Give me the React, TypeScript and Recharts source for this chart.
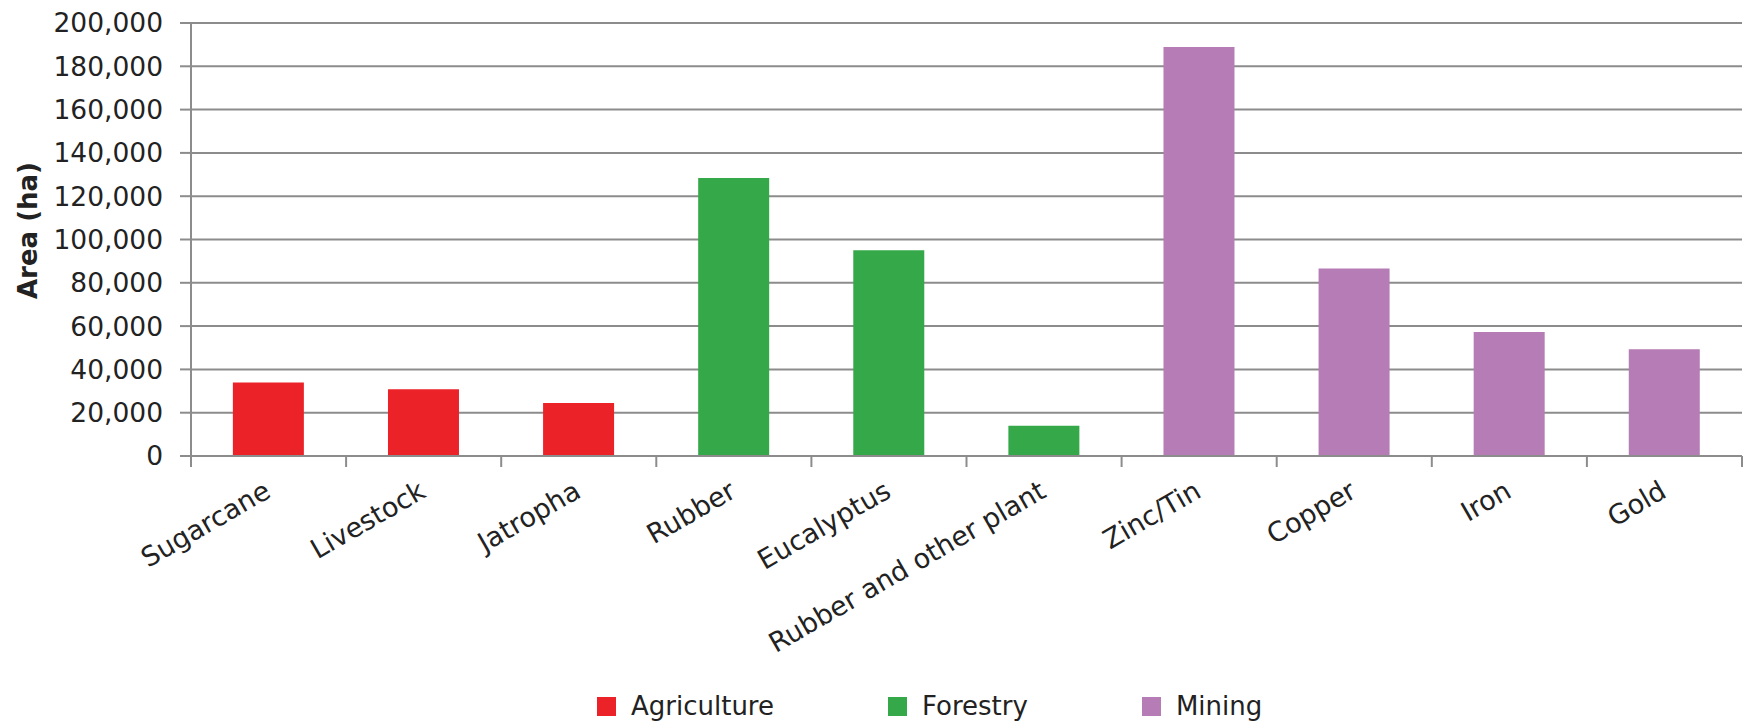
import React from "react";
import {
  Bar,
  BarChart,
  CartesianGrid,
  Cell,
  Label,
  Legend,
  XAxis,
  YAxis
} from "recharts";

const categories = [
  "Sugarcane",
  "Livestock",
  "Jatropha",
  "Rubber",
  "Eucalyptus",
  "Rubber and other plant",
  "Zinc/Tin",
  "Copper",
  "Iron",
  "Gold"
];
const areas = [34000, 30800, 24500, 128400, 95000, 14000, 188900, 86600, 57300, 49300];
const sectorOf = [
  "Agriculture",
  "Agriculture",
  "Agriculture",
  "Forestry",
  "Forestry",
  "Forestry",
  "Mining",
  "Mining",
  "Mining",
  "Mining"
];
const sectors = ["Agriculture", "Forestry", "Mining"];
const sectorColors = ["#EC2229", "#35A84A", "#B57CB5"];
const yTicks = [0, 20000, 40000, 60000, 80000, 100000, 120000, 140000, 160000, 180000, 200000];

const data = categories.map((name, i) => ({ name, area: areas[i], sector: sectorOf[i] }));

const FONT = "'DejaVu Sans', Verdana, sans-serif";
const TEXT = "#222222";
const GRID = "#8c8c8c";
const TICK_SIZE = 11;
const TICK_MARGIN = 2;

// category-boundary tick marks + rotated labels
const XTick = (props: any) => {
  const { x, y, payload, index, width } = props;
  const band = width / categories.length;
  const axisY = y - TICK_SIZE - TICK_MARGIN;
  return (
    <g>
      <line x1={x - band / 2} x2={x - band / 2} y1={axisY} y2={axisY + TICK_SIZE} stroke={GRID} strokeWidth={2} />
      {index === categories.length - 1 && (
        <line x1={x + band / 2} x2={x + band / 2} y1={axisY} y2={axisY + TICK_SIZE} stroke={GRID} strokeWidth={2} />
      )}
      <text
        transform={`translate(${x - 1},${y + 19}) rotate(-30)`}
        textAnchor="end"
        dy="0.35em"
        fontFamily={FONT}
        fontSize={27}
        fill={TEXT}
      >
        {payload.value}
      </text>
    </g>
  );
};

const YTitle = (props: any) => {
  const { viewBox } = props;
  const cx = viewBox.x + 28;
  const cy = viewBox.y + viewBox.height / 2 - 9;
  return (
    <text
      transform={`translate(${cx},${cy}) rotate(-90)`}
      textAnchor="middle"
      dominantBaseline="central"
      fontFamily={FONT}
      fontSize={26}
      fontWeight="bold"
      fill={TEXT}
    >
      Area (ha)
    </text>
  );
};

const renderLegend = () => (
  <div style={{ display: "flex", alignItems: "center", lineHeight: "26px" }}>
    {sectors.map((s, i) => (
      <div key={s} style={{ display: "flex", alignItems: "center", marginRight: 114 }}>
        <span style={{ width: 19, height: 19, background: sectorColors[i], marginRight: 15, display: "inline-block" }} />
        <span style={{ fontFamily: FONT, fontSize: 26, color: TEXT }}>{s}</span>
      </div>
    ))}
  </div>
);

export default function App() {
  return (
    <div style={{ position: "fixed", left: 0, top: 0, width: 1756, height: 723, background: "#fff" }}>
      <BarChart
        width={1756}
        height={723}
        data={data}
        margin={{ top: 23, right: 14, left: 0, bottom: 0 }}
        barCategoryGap="27%"
      >
        <CartesianGrid vertical={false} stroke={GRID} strokeWidth={2} />
        <XAxis
          dataKey="name"
          interval={0}
          height={267}
          tickSize={TICK_SIZE}
          tickMargin={TICK_MARGIN}
          tickLine={false}
          axisLine={{ stroke: GRID, strokeWidth: 2 }}
          tick={<XTick />}
        />
        <YAxis
          width={191}
          domain={[0, 200000]}
          ticks={yTicks}
          interval={0}
          tickSize={TICK_SIZE}
          tickMargin={17}
          tickLine={{ stroke: GRID, strokeWidth: 2 }}
          axisLine={{ stroke: GRID, strokeWidth: 2 }}
          tick={{ fontFamily: FONT, fontSize: 26.5, fill: TEXT }}
          tickFormatter={(v) => v.toLocaleString("en-US")}
        >
          <Label content={<YTitle />} />
        </YAxis>
        <Legend
          verticalAlign="middle"
          align="center"
          layout="horizontal"
          wrapperStyle={{ top: 693, left: 597, width: "auto" }}
          content={renderLegend}
        />
        <Bar dataKey="area" isAnimationActive={false}>
          {data.map((d, i) => (
            <Cell key={d.name} fill={sectorColors[sectors.indexOf(d.sector)]} />
          ))}
        </Bar>
      </BarChart>
    </div>
  );
}
